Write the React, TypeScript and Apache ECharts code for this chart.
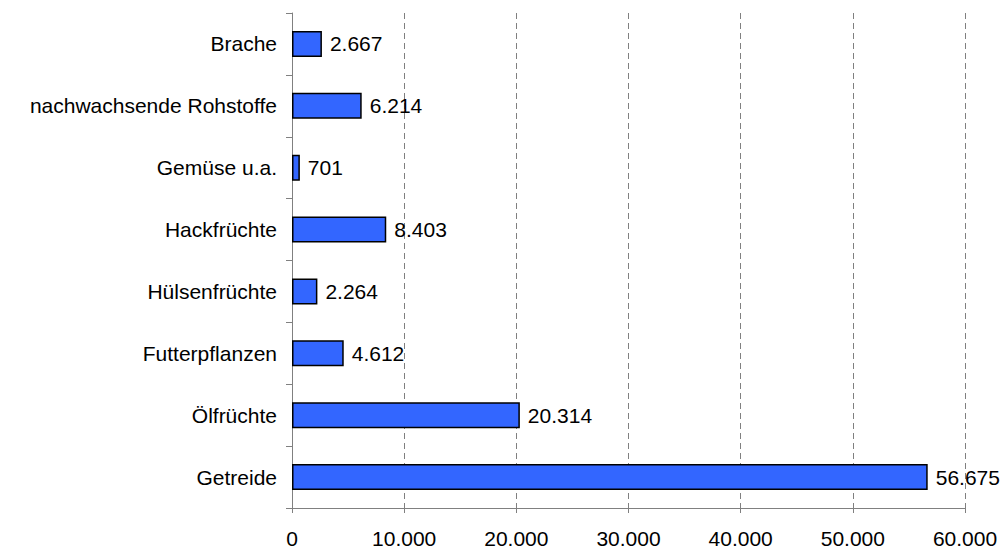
import React, { useEffect, useRef } from "react";
import * as echarts from "echarts";

const categories = [
  "Getreide",
  "Ölfrüchte",
  "Futterpflanzen",
  "Hülsenfrüchte",
  "Hackfrüchte",
  "Gemüse u.a.",
  "nachwachsende Rohstoffe",
  "Brache",
];
const values = [56675, 20314, 4612, 2264, 8403, 701, 6214, 2667];
const axisMin = 0;
const axisMax = 60000;
const axisInterval = 10000;

function fmtDE(v: number): string {
  const s = Math.round(v).toString();
  return s.replace(/\B(?=(\d{3})+(?!\d))/g, ".");
}

export default function App() {
  const ref = useRef<HTMLDivElement>(null);
  useEffect(() => {
    if (!ref.current) return;
    const chart = echarts.init(ref.current, null, { renderer: "svg" });
    const font = "'Liberation Sans', Arial, sans-serif";
    chart.setOption({
      animation: false,
      backgroundColor: "#ffffff",
      grid: { left: 292, right: 40, top: 13, bottom: 42, containLabel: false },
      xAxis: {
        type: "value",
        min: axisMin,
        max: axisMax,
        interval: axisInterval,
        axisLine: { show: true, lineStyle: { color: "#808080", width: 1 } },
        axisTick: { show: true, length: 5, lineStyle: { color: "#808080" } },
        axisLabel: {
          color: "#000",
          fontFamily: font,
          fontSize: 21,
          margin: 20,
          formatter: (v: number) => fmtDE(v),
        },
        splitLine: {
          show: true,
          lineStyle: { color: "#808080", type: [6, 4], width: 1 },
        },
      },
      yAxis: {
        type: "category",
        data: categories,
        axisLine: { show: true, lineStyle: { color: "#808080", width: 1 } },
        axisTick: { show: true, length: 6, lineStyle: { color: "#808080" } },
        axisLabel: {
          color: "#000",
          fontFamily: font,
          fontSize: 21,
          margin: 15,
        },
        splitLine: { show: false },
      },
      series: [
        {
          type: "bar",
          data: values,
          barCategoryGap: "58%",
          itemStyle: { color: "#3366FF", borderColor: "#000", borderWidth: 1.5 },
          label: {
            show: true,
            position: "right",
            distance: 8,
            color: "#000",
            fontFamily: font,
            fontSize: 21,
            formatter: (p: any) => fmtDE(p.value),
          },
        },
      ],
    });
    return () => chart.dispose();
  }, []);
  return (
    <div
      ref={ref}
      style={{ position: "fixed", left: 0, top: 0, width: 1005, height: 550, background: "#fff" }}
    />
  );
}
